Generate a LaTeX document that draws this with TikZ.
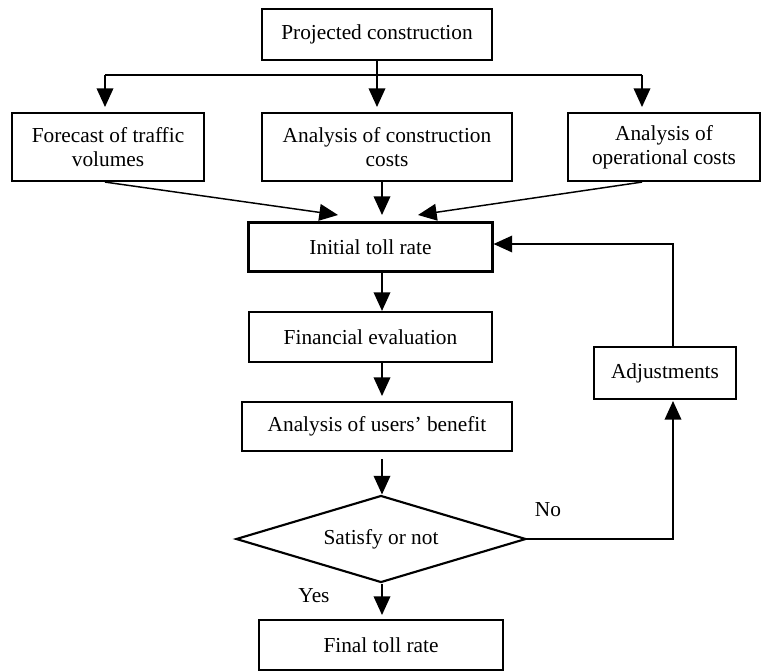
\documentclass[tikz,border=0pt]{standalone}
\usepackage{fontspec}
\setmainfont{Liberation Serif}
\usetikzlibrary{arrows.meta,shapes.geometric}
\begin{document}
\begin{tikzpicture}[x=0.75pt,y=-0.75pt,
  box/.style={draw,line width=1.6pt,rectangle,inner sep=0pt,align=center,font=\fontsize{16}{18}\selectfont},
  decision/.style={draw,line width=1.6pt,diamond,aspect=3.3,inner sep=0pt,font=\fontsize{16}{18}\selectfont},
  conn/.style={line width=1.1pt},
  arr/.style={conn,-{Triangle[length=14pt,width=12.5pt]}},
  lbl/.style={font=\fontsize{16}{18}\selectfont,inner sep=0pt}]
\useasboundingbox (0,0) rectangle (763,671);
% boxes
\node[box,minimum width=172.5pt,minimum height=38.25pt] (top) at (377,34.5) {Projected construction};
\node[box,minimum width=144pt,minimum height=51pt] (left) at (108,147) {Forecast of traffic\\volumes};
\node[box,minimum width=187.5pt,minimum height=51pt] (mid) at (387,147) {Analysis of construction\\costs};
\node[box,minimum width=144pt,minimum height=51pt] (right) at (664,147) {Analysis of\\operational costs};
\node[box,minimum width=183pt,minimum height=36.75pt] (init) at (370.5,247) {Initial toll rate};
\node[box,minimum width=182.25pt,minimum height=37.5pt] (fin) at (370.5,337) {Financial evaluation};
\node[box,minimum width=202.5pt,minimum height=36.75pt] (users) at (377,426.5) {Analysis of users' benefit};
\node[decision,minimum width=217.5pt,minimum height=65.25pt] (dia) at (381,539) {Satisfy or not};
\node[box,minimum width=106.5pt,minimum height=39pt] (adj) at (665,373) {Adjustments};
\node[box,minimum width=183pt,minimum height=37.5pt] (final) at (381,645) {Final toll rate};
\node[lbl] (no) at (548,510) {No};
\node[lbl] (yes) at (314,596) {Yes};
% coordinates
\coordinate (hub) at (377,75);
\coordinate (hl) at (105,75);
\coordinate (hr) at (642,75);
\coordinate (tL) at (105,107);
\coordinate (tM) at (377,107);
\coordinate (tR) at (642,107);
\coordinate (iL) at (338,215);
\coordinate (iM) at (382,215);
\coordinate (iR) at (418,215);
\coordinate (u) at (382,396);
\coordinate (d0) at (382,459);
\coordinate (f0) at (382,615);
\coordinate (c1) at (673,539);
\coordinate (c2) at (673,401);
\coordinate (c3) at (673,244);
% connectors
\draw[conn] (top.south) -- (hub);
\draw[conn] (hl) -- (hr);
\draw[arr] (hl) -- (tL);
\draw[arr] (hub) -- (tM);
\draw[arr] (hr) -- (tR);
\draw[arr] (left.south -| hl) -- (iL);
\draw[arr] (mid.south -| iM) -- (iM);
\draw[arr] (right.south -| hr) -- (iR);
\draw[arr] (init.south -| iM) -- (fin.north -| iM);
\draw[arr] (fin.south -| iM) -- (u);
\draw[arr] (d0) -- (dia.north -| iM);
\draw[arr] (dia.south -| iM) -- (f0);
\draw[arr] (dia.east) -- (c1) -- (c2);
\draw[arr] (adj.north -| c3) -- (c3) -- (init.east |- c3);
\end{tikzpicture}
\end{document}
